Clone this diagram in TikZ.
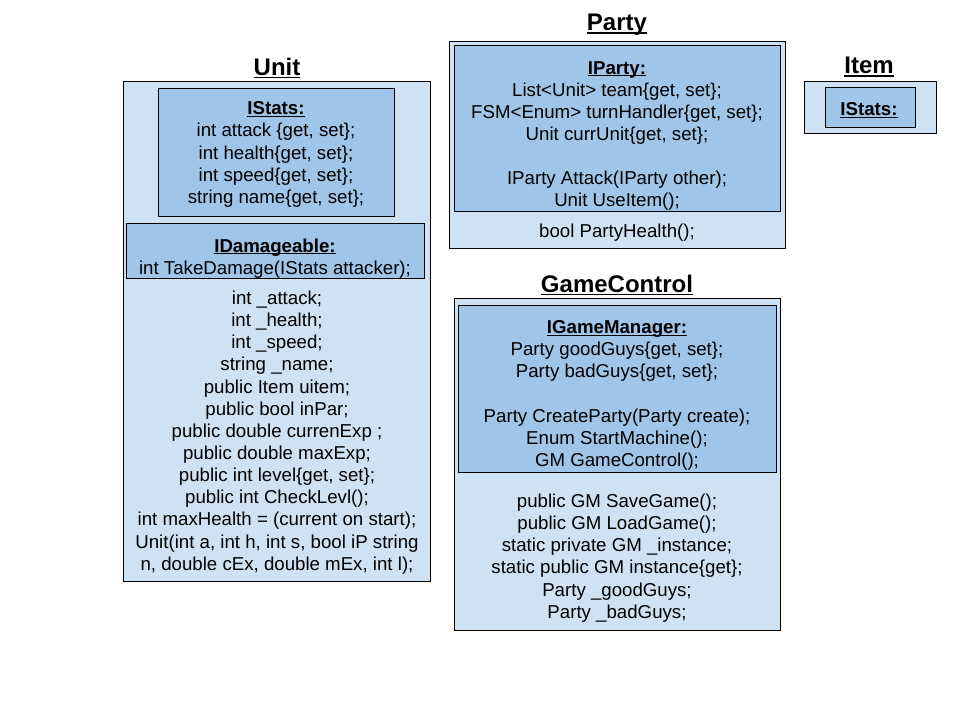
\documentclass[tikz,border=0pt]{standalone}
\usepackage{fontspec}
\setmainfont{Liberation Sans}
\usetikzlibrary{fit}
\definecolor{outerblue}{HTML}{CFE2F3}
\definecolor{innerblue}{HTML}{9FC5E8}
\tikzset{
  outerbox/.style={draw=black, line width=0.75pt, fill=outerblue, inner sep=0pt},
  innerbox/.style={draw=black, line width=0.75pt, fill=innerblue, inner sep=0pt},
  body/.style={align=center, inner sep=0pt, font=\fontsize{14}{16.6}\selectfont},
  title/.style={inner sep=0pt, font=\fontsize{18}{20}\selectfont\bfseries},
}
\newcommand{\myul}[3]{\leavevmode\setbox0\hbox{#1}\rlap{\rule[-#2]{\wd0}{#3}}\box0}
\newcommand{\hdr}[1]{\myul{\textbf{#1}}{1.6pt}{0.8pt}}
\newcommand{\ttl}[1]{\myul{#1}{2.2pt}{1.1pt}}
\begin{document}
\begin{tikzpicture}[x=0.75pt,y=-0.75pt]
\useasboundingbox (0,0) rectangle (960,720);
\fill[white] (0,0) rectangle (960,720);

% Unit
\node[title] (unitT) at (277,68) {\ttl{Unit}};
\node[outerbox, fit={(123,82) (430,581)}] (unit) {};
\node[innerbox, fit={(158,89) (394,217)}] (unitS) {};
\node[innerbox, fit={(126,224) (424,279)}] (unitD) {};
\node[body] (unitSt) at (276,154.5) {\hdr{IStats:}\\int attack \{get, set\};\\int health\{get, set\};\\int speed\{get, set\};\\string name\{get, set\};};
\node[body] (unitDt) at (275,258.5) {\hdr{IDamageable:}\\int TakeDamage(IStats attacker);};
\node[body] (unitB) at (277,432.5) {int \_attack;\\int \_health;\\int \_speed;\\string \_name;\\public Item uitem;\\public bool inPar;\\public double currenExp ;\\public double maxExp;\\public int level\{get, set\};\\public int CheckLevl();\\int maxHealth = (current on start);\\Unit(int a, int h, int s, bool iP string\\n, double cEx, double mEx, int l);};

% Party
\node[title] (partyT) at (617,25) {\ttl{Party}};
\node[outerbox, fit={(449,42) (785,249)}] (party) {};
\node[innerbox, fit={(454,46) (780,212)}] (partyI) {};
\node[body] (partyIt) at (617,136) {\hdr{IParty:}\\List<Unit> team\{get, set\};\\FSM<Enum> turnHandler\{get, set\};\\Unit currUnit\{get, set\};\\\strut\\IParty Attack(IParty other);\\Unit UseItem();};
\node[body] (partyB) at (617,232.5) {bool PartyHealth();};

% Item
\node[title] (itemT) at (869,67) {\ttl{Item}};
\node[outerbox, fit={(804,82) (936,134)}] (item) {};
\node[innerbox, fit={(825,88) (915,128)}] (itemI) {};
\node[body] (itemIt) at (869,110) {\hdr{IStats:}};

% GameControl
\node[title] (gcT) at (617,285) {\ttl{GameControl}};
\node[outerbox, fit={(454,299) (780,630)}] (gc) {};
\node[innerbox, fit={(458,306) (776,472)}] (gcI) {};
\node[body] (gcIt) at (617,395.5) {\hdr{IGameManager:}\\Party goodGuys\{get, set\};\\Party badGuys\{get, set\};\\\strut\\Party CreateParty(Party create);\\Enum StartMachine();\\GM GameControl();};
\node[body] (gcB) at (617,558) {public GM SaveGame();\\public GM LoadGame();\\static private GM \_instance;\\static public GM instance\{get\};\\Party \_goodGuys;\\Party \_badGuys;};
\end{tikzpicture}
\end{document}
